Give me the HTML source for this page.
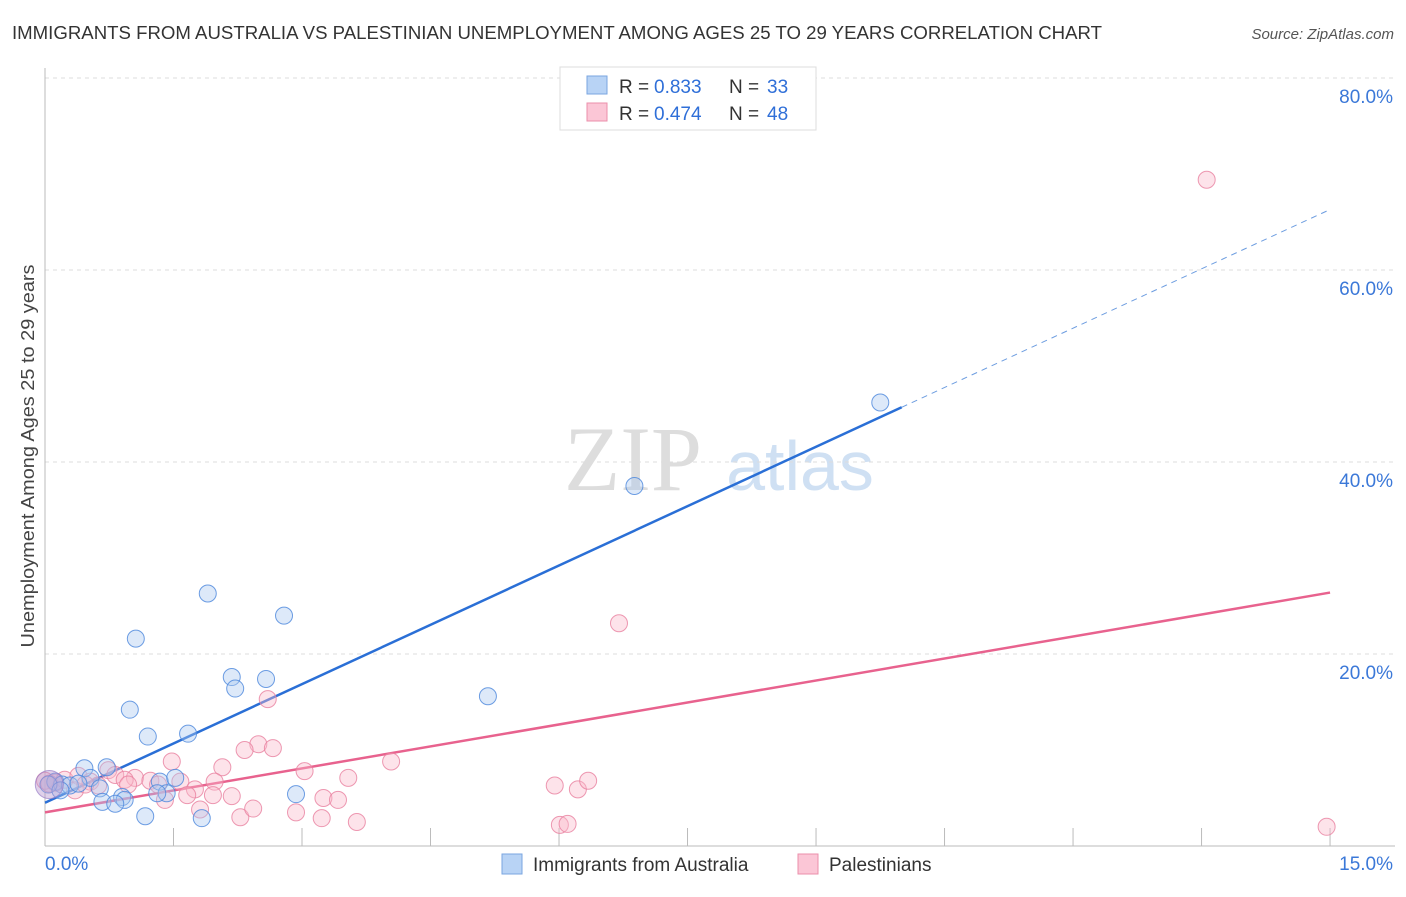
<!DOCTYPE html>
<html><head><meta charset="utf-8"><style>
body{margin:0;background:#fff;font-family:"Liberation Sans",sans-serif;}
</style></head><body>
<svg width="1406" height="892" xmlns="http://www.w3.org/2000/svg" id="chart" font-family="Liberation Sans, sans-serif">
<text x="12" y="39" font-size="18" fill="#333" textLength="1090" lengthAdjust="spacingAndGlyphs">IMMIGRANTS FROM AUSTRALIA VS PALESTINIAN UNEMPLOYMENT AMONG AGES 25 TO 29 YEARS CORRELATION CHART</text>
<text x="1394" y="39" font-size="15" fill="#555" text-anchor="end" font-style="italic">Source: ZipAtlas.com</text>
<text x="34" y="456" font-size="18" fill="#444" text-anchor="middle" textLength="383" lengthAdjust="spacingAndGlyphs" transform="rotate(-90 34 456)">Unemployment Among Ages 25 to 29 years</text>
<g><text x="633" y="490" font-size="92" fill="#ddd" font-family="Liberation Serif, serif" text-anchor="middle">ZIP</text><text x="800" y="490" font-size="70" fill="#cfe0f3" text-anchor="middle">atlas</text></g>
<g id="grid"></g><g id="axes"></g><g id="lines"></g><g id="pts"></g>
<g>
<rect x="560" y="67" width="256" height="63" fill="#fff" stroke="#ddd"/>
<rect x="587" y="76" width="20" height="18" fill="#b8d3f5" stroke="#7aa6e0"/>
<rect x="587" y="103" width="20" height="18" fill="#fbc6d6" stroke="#eb8fab"/>
<text x="619" y="93" font-size="19" fill="#333">R =</text><text x="654" y="93" font-size="19" fill="#2f6fd8">0.833</text>
<text x="729" y="93" font-size="19" fill="#333">N =</text><text x="767" y="93" font-size="19" fill="#2f6fd8">33</text>
<text x="619" y="120" font-size="19" fill="#333">R =</text><text x="654" y="120" font-size="19" fill="#2f6fd8">0.474</text>
<text x="729" y="120" font-size="19" fill="#333">N =</text><text x="767" y="120" font-size="19" fill="#2f6fd8">48</text>
</g>
<g>
<rect x="502" y="854" width="20" height="20" fill="#b8d3f5" stroke="#7aa6e0"/>
<text x="533" y="871" font-size="19" fill="#333">Immigrants from Australia</text>
<rect x="798" y="854" width="20" height="20" fill="#fbc6d6" stroke="#eb8fab"/>
<text x="829" y="871" font-size="19" fill="#333">Palestinians</text>
</g>
</svg>
<script>
const xTicks=[0,15];
const yTicks=[20,40,60,80];
const blueX=[9.75,6.88,1.90,2.79,1.06,2.18,2.58,2.22,5.17,0.99,1.20,1.67,0.46,0.72,0.53,0.12,0.20,0.29,0.39,0.64,1.34,1.52,1.42,1.31,0.90,0.93,0.67,0.82,1.17,1.83,2.93,0.04,0.18];
const blueY=[46.2,37.5,26.3,24.0,21.6,17.6,17.4,16.4,15.6,14.2,11.4,11.7,8.1,8.2,7.1,6.7,6.4,6.3,6.5,6.0,6.7,7.1,5.5,5.5,5.1,4.8,4.6,4.4,3.1,2.9,5.4,6.4,5.8];
const pinkX=[13.56,6.70,2.60,2.49,2.33,2.66,1.48,4.04,2.07,3.03,3.54,0.74,1.05,1.23,1.58,1.98,0.82,0.93,0.97,1.32,1.75,1.96,2.18,1.40,1.66,5.95,6.22,6.34,2.93,2.28,3.23,2.43,1.81,3.64,6.01,6.10,14.96,0.12,0.23,0.39,0.53,0.62,0.35,0.47,0.0,3.25,3.42,0.05];
const pinkY=[69.4,23.2,15.3,10.6,10.0,10.2,8.8,8.8,8.2,7.8,7.1,7.9,7.1,6.8,6.7,6.7,7.4,6.9,6.4,6.4,5.9,5.3,5.2,4.8,5.3,6.3,5.9,6.8,3.5,3.0,2.9,3.9,3.8,2.5,2.2,2.3,2.0,6.6,6.9,7.3,6.7,6.3,5.8,6.4,6.8,5.0,4.8,6.5];
const blueFit=[4.5,66.3]; const blueSolidEnd=10.0;
const pinkFit=[3.5,26.4];
const NS="http://www.w3.org/2000/svg";
const X=v=>45+v*85.67, Y=v=>846-v*9.6;
function mk(t,a,p){const e=document.createElementNS(NS,t);for(const k in a)e.setAttribute(k,a[k]);p.appendChild(e);return e;}
const g=document.getElementById('grid'),ax=document.getElementById('axes'),ln=document.getElementById('lines'),pt=document.getElementById('pts');
yTicks.forEach(v=>{const l=mk('line',{x1:45,x2:1395,y1:Y(v),y2:Y(v),stroke:'#ddd','stroke-dasharray':'4 4'},g);


const t=mk('text',{x:1393,y:Y(v)+25,'font-size':19,fill:'#3b78d8','text-anchor':'end'},g);t.textContent=v.toFixed(1)+'%';

});
const a1=mk('line',{x1:45,x2:45,y1:68,y2:846,stroke:'#bbb'},ax);


const a2=mk('line',{x1:45,x2:1395,y1:846,y2:846,stroke:'#bbb'},ax);


for(let i=0;i<=10;i++){const tx=X(1.5*i);const tk=mk('line',{x1:tx,x2:tx,y1:828,y2:846,stroke:'#bbb'},ax);

}
xTicks.forEach((v,i)=>{const t=mk('text',{x:i?1393:45,y:870,'font-size':19,fill:'#3b78d8','text-anchor':i?'end':'start'},ax);t.textContent=v.toFixed(1)+'%';

});
const bf=v=>blueFit[0]+(blueFit[1]-blueFit[0])*v/15, pf=v=>pinkFit[0]+(pinkFit[1]-pinkFit[0])*v/15;
function dots(xs,ys,fill,stroke,name){xs.forEach((x,i)=>{const c=mk('circle',{cx:X(x),cy:Y(ys[i]),r:8.5,fill:fill,'fill-opacity':0.4,stroke:stroke,'stroke-opacity':0.8,'stroke-width':1},pt);

});}
dots(pinkX,pinkY,'#f9b8cb','#e9809f','palestinians-point');
dots(blueX,blueY,'#a9c8f0','#4a86dc','australia-point');
const big=mk('circle',{cx:X(0.05),cy:Y(6.4),r:14,fill:'#b79ad0','fill-opacity':0.45,stroke:'#9a7fc7','stroke-opacity':0.7},pt);


const l1=mk('line',{x1:X(0),y1:Y(bf(0)),x2:X(blueSolidEnd),y2:Y(bf(blueSolidEnd)),stroke:'#2a6fd6','stroke-width':2.5},ln);


const l2=mk('line',{x1:X(blueSolidEnd),y1:Y(bf(blueSolidEnd)),x2:X(15),y2:Y(bf(15)),stroke:'#6d9de0','stroke-width':1,'stroke-dasharray':'6 5'},ln);


const l3=mk('line',{x1:X(0),y1:Y(pf(0)),x2:X(15),y2:Y(pf(15)),stroke:'#e8628e','stroke-width':2.5},ln);


</script>
</body></html>
